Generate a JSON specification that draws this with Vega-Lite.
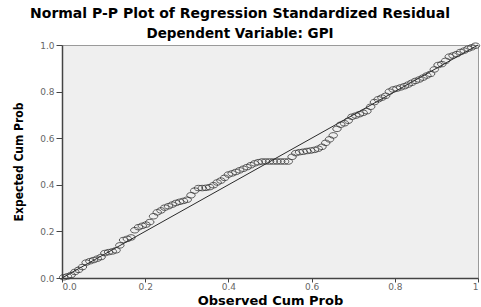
{
  "$schema": "https://vega.github.io/schema/vega-lite/v6.json",
  "width": 416,
  "height": 233,
  "autosize": {"type": "none"},
  "padding": {"left": 62, "top": 45, "right": 3, "bottom": 29},
  "background": "white",
  "title": {
    "text": "Normal P-P Plot of Regression Standardized Residual",
    "subtitle": "Dependent Variable: GPI",
    "font": "DejaVu Sans",
    "fontSize": 14,
    "fontWeight": "bold",
    "color": "#000000",
    "subtitleFont": "DejaVu Sans",
    "subtitleFontSize": 13.5,
    "subtitleFontWeight": "bold",
    "subtitleColor": "#000000",
    "subtitlePadding": 6,
    "offset": 1,
    "anchor": "middle",
    "dx": -30
  },
  "config": {
    "view": {"fill": "#efefef", "stroke": "#9a9a9a", "strokeWidth": 1}
  },
  "datasets": {
    "pts": [
      {"obs": 0.004, "exp": 0.003}, {"obs": 0.013, "exp": 0.007}, {"obs": 0.022, "exp": 0.013}, {"obs": 0.031, "exp": 0.026},
      {"obs": 0.040, "exp": 0.035}, {"obs": 0.049, "exp": 0.047}, {"obs": 0.058, "exp": 0.066}, {"obs": 0.067, "exp": 0.072},
      {"obs": 0.076, "exp": 0.077}, {"obs": 0.085, "exp": 0.083}, {"obs": 0.094, "exp": 0.090}, {"obs": 0.103, "exp": 0.107},
      {"obs": 0.112, "exp": 0.111}, {"obs": 0.121, "exp": 0.114}, {"obs": 0.130, "exp": 0.119}, {"obs": 0.139, "exp": 0.140},
      {"obs": 0.148, "exp": 0.163}, {"obs": 0.157, "exp": 0.168}, {"obs": 0.166, "exp": 0.174}, {"obs": 0.175, "exp": 0.205},
      {"obs": 0.184, "exp": 0.218}, {"obs": 0.193, "exp": 0.224}, {"obs": 0.202, "exp": 0.229}, {"obs": 0.211, "exp": 0.240},
      {"obs": 0.220, "exp": 0.265}, {"obs": 0.229, "exp": 0.282}, {"obs": 0.238, "exp": 0.290}, {"obs": 0.247, "exp": 0.302},
      {"obs": 0.256, "exp": 0.308}, {"obs": 0.265, "exp": 0.315}, {"obs": 0.274, "exp": 0.322}, {"obs": 0.283, "exp": 0.327},
      {"obs": 0.292, "exp": 0.331}, {"obs": 0.301, "exp": 0.336}, {"obs": 0.310, "exp": 0.355}, {"obs": 0.319, "exp": 0.375},
      {"obs": 0.328, "exp": 0.386}, {"obs": 0.337, "exp": 0.386}, {"obs": 0.346, "exp": 0.387}, {"obs": 0.355, "exp": 0.390},
      {"obs": 0.364, "exp": 0.398}, {"obs": 0.373, "exp": 0.410}, {"obs": 0.382, "exp": 0.418}, {"obs": 0.391, "exp": 0.430},
      {"obs": 0.400, "exp": 0.444}, {"obs": 0.409, "exp": 0.449}, {"obs": 0.418, "exp": 0.455}, {"obs": 0.427, "exp": 0.462},
      {"obs": 0.436, "exp": 0.469}, {"obs": 0.445, "exp": 0.476}, {"obs": 0.454, "exp": 0.484}, {"obs": 0.463, "exp": 0.492},
      {"obs": 0.472, "exp": 0.497}, {"obs": 0.481, "exp": 0.500}, {"obs": 0.490, "exp": 0.500}, {"obs": 0.499, "exp": 0.500},
      {"obs": 0.508, "exp": 0.500}, {"obs": 0.517, "exp": 0.500}, {"obs": 0.526, "exp": 0.500}, {"obs": 0.535, "exp": 0.500},
      {"obs": 0.544, "exp": 0.500}, {"obs": 0.553, "exp": 0.520}, {"obs": 0.562, "exp": 0.536}, {"obs": 0.571, "exp": 0.540},
      {"obs": 0.580, "exp": 0.542}, {"obs": 0.589, "exp": 0.545}, {"obs": 0.598, "exp": 0.547}, {"obs": 0.607, "exp": 0.550},
      {"obs": 0.616, "exp": 0.555}, {"obs": 0.625, "exp": 0.563}, {"obs": 0.634, "exp": 0.580}, {"obs": 0.643, "exp": 0.595},
      {"obs": 0.652, "exp": 0.612}, {"obs": 0.661, "exp": 0.640}, {"obs": 0.670, "exp": 0.658}, {"obs": 0.679, "exp": 0.664},
      {"obs": 0.688, "exp": 0.675}, {"obs": 0.697, "exp": 0.692}, {"obs": 0.706, "exp": 0.697}, {"obs": 0.715, "exp": 0.703},
      {"obs": 0.724, "exp": 0.709}, {"obs": 0.733, "exp": 0.716}, {"obs": 0.742, "exp": 0.735}, {"obs": 0.751, "exp": 0.755},
      {"obs": 0.760, "exp": 0.767}, {"obs": 0.769, "exp": 0.774}, {"obs": 0.778, "exp": 0.782}, {"obs": 0.787, "exp": 0.800},
      {"obs": 0.796, "exp": 0.809}, {"obs": 0.805, "exp": 0.813}, {"obs": 0.814, "exp": 0.818}, {"obs": 0.823, "exp": 0.823},
      {"obs": 0.832, "exp": 0.830}, {"obs": 0.841, "exp": 0.838}, {"obs": 0.850, "exp": 0.846}, {"obs": 0.859, "exp": 0.852},
      {"obs": 0.868, "exp": 0.860}, {"obs": 0.877, "exp": 0.869}, {"obs": 0.886, "exp": 0.876}, {"obs": 0.895, "exp": 0.895},
      {"obs": 0.904, "exp": 0.914}, {"obs": 0.913, "exp": 0.918}, {"obs": 0.922, "exp": 0.932}, {"obs": 0.931, "exp": 0.950},
      {"obs": 0.940, "exp": 0.955}, {"obs": 0.949, "exp": 0.961}, {"obs": 0.958, "exp": 0.970}, {"obs": 0.967, "exp": 0.976},
      {"obs": 0.976, "exp": 0.984}, {"obs": 0.985, "exp": 0.990}, {"obs": 0.994, "exp": 0.997}
    ],
    "diag": [{"x0": 0, "y0": 0, "x1": 1, "y1": 1}]
  },
  "layer": [
    {
      "data": {"name": "diag"},
      "mark": {"type": "rule", "color": "#2a2a2a", "strokeWidth": 1},
      "encoding": {
        "x": {"field": "x0", "type": "quantitative", "scale": {"domain": [0, 1]}},
        "y": {"field": "y0", "type": "quantitative", "scale": {"domain": [0, 1]}},
        "x2": {"field": "x1"},
        "y2": {"field": "y1"}
      }
    },
    {
      "data": {"name": "pts"},
      "mark": {
        "type": "point",
        "shape": "M-1,0 A1,0.65 0 1,1 1,0 A1,0.65 0 1,1 -1,0 Z",
        "size": 72,
        "filled": false,
        "stroke": "#333333",
        "strokeWidth": 0.8,
        "opacity": 1
      },
      "encoding": {
        "x": {
          "field": "obs", "type": "quantitative",
          "scale": {"domain": [0, 1], "nice": false},
          "axis": {
            "title": "Observed Cum Prob",
            "values": [0, 0.2, 0.4, 0.6, 0.8, 1],
            "labelExpr": "datum.value == 1 ? '1' : format(datum.value, '.1f')",
            "grid": false,
            "domainColor": "#444444", "domainWidth": 1.5,
            "tickColor": "#444444", "tickSize": 4,
            "labelFont": "DejaVu Sans", "labelFontSize": 9, "labelColor": "#666666", "labelPadding": 0,
            "titleFont": "DejaVu Sans", "titleFontSize": 13, "titleFontWeight": "bold", "titleColor": "#000000",
            "titlePadding": 3
          }
        },
        "y": {
          "field": "exp", "type": "quantitative",
          "scale": {"domain": [0, 1], "nice": false},
          "axis": {
            "title": "Expected Cum Prob",
            "values": [0, 0.2, 0.4, 0.6, 0.8, 1],
            "format": ".1f",
            "grid": false,
            "domainColor": "#444444", "domainWidth": 1.5,
            "tickColor": "#444444", "tickSize": 6,
            "labelFont": "DejaVu Sans", "labelFontSize": 9, "labelColor": "#666666", "labelPadding": 2,
            "titleFont": "DejaVu Sans Condensed, Liberation Sans, sans-serif", "titleFontSize": 12, "titleFontWeight": "bold", "titleColor": "#000000",
            "titlePadding": 14
          }
        }
      }
    }
  ]
}
